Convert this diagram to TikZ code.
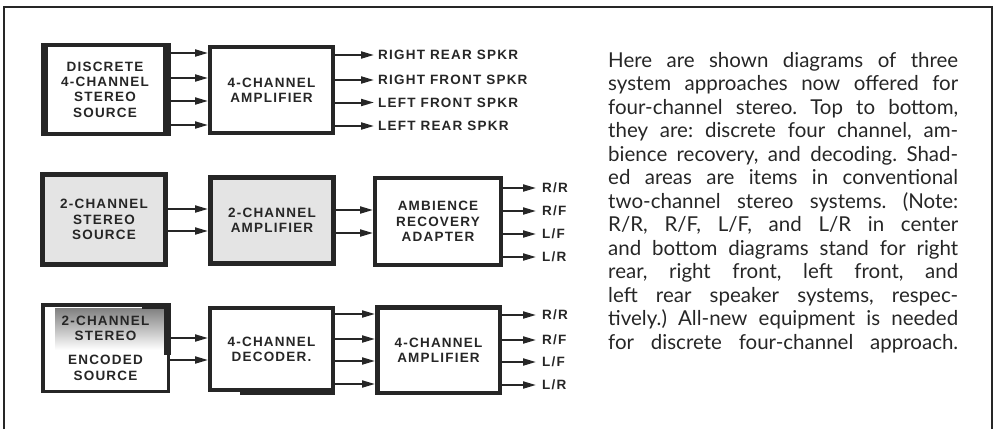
\documentclass[tikz,border=0pt]{standalone}
\usepackage{fontspec}
\setmainfont{Lato}
\newfontfamily\boxfont[LetterSpace=9]{Liberation Sans}
\usetikzlibrary{arrows.meta}
\definecolor{ink}{HTML}{262626}
\definecolor{shade}{HTML}{E4E4E4}
\begin{document}
\frenchspacing
\begin{tikzpicture}[x=1pt,y=-1pt,
  blk/.style={draw=ink, line width=4pt, inner sep=0pt, align=center,
    font=\boxfont\bfseries\fontsize{13.5}{15.3}\selectfont, text=ink},
  lbl/.style={anchor=west, inner sep=0pt, text height=9.7pt, text depth=0pt,
    font=\boxfont\bfseries\fontsize{13.5}{15}\selectfont, text=ink},
  sig/.style={draw=ink, line width=2pt, -{Triangle[length=13pt,width=7pt]}},
]
\useasboundingbox (0,0) rectangle (995,429);
% outer frame
\draw[ink, line width=2.5pt] (4,429) -- (4,7) -- (992,7) -- (992,429);

% ---------- row 1 ----------
\node[blk, minimum width=124pt, minimum height=89pt] (src1) at (105,89.5)
  {DISCRETE\\4-CHANNEL\\STEREO\\SOURCE};
\fill[ink] (41,43) rectangle (47.5,136);
\fill[ink] (162.5,43) rectangle (170.5,136);
\node[blk, minimum width=123pt, minimum height=86pt] (amp1) at (271.5,90)
  {4-CHANNEL\\AMPLIFIER};
\foreach \y in {53,78,101,125}
  \draw[sig] (src1.east |- 0,\y) -- (amp1.west |- 0,\y);
\node[lbl] (o1a) at (378,55) {RIGHT REAR SPKR};
\node[lbl] (o1b) at (378,80) {RIGHT FRONT SPKR};
\node[lbl] (o1c) at (378,102.5) {LEFT FRONT SPKR};
\node[lbl] (o1d) at (378,126) {LEFT REAR SPKR};
\foreach \n in {o1a,o1b,o1c,o1d}
  \draw[sig] (amp1.east |- \n.west) -- ([xshift=-4pt]\n.west);

% ---------- row 2 ----------
\node[blk, fill=shade, line width=5pt, minimum width=123pt, minimum height=90pt] (src2) at (104,219.5)
  {2-CHANNEL\\STEREO\\SOURCE};
\node[blk, fill=shade, line width=5pt, minimum width=123pt, minimum height=86pt] (amp2) at (272,220.5)
  {2-CHANNEL\\AMPLIFIER};
\node[blk, minimum width=126pt, minimum height=87pt] (amb) at (438,221.5)
  {AMBIENCE\\RECOVERY\\ADAPTER};
\foreach \y in {209,231}
  \draw[sig] (src2.east |- 0,\y) -- (amp2.west |- 0,\y);
\foreach \y in {210,233}
  \draw[sig] (amp2.east |- 0,\y) -- (amb.west |- 0,\y);
\node[lbl] (o2a) at (542,188) {R/R};
\node[lbl] (o2b) at (542,211) {R/F};
\node[lbl] (o2c) at (542,234) {L/F};
\node[lbl] (o2d) at (542,257) {L/R};
\foreach \n in {o2a,o2b,o2c,o2d}
  \draw[sig] (amb.east |- \n.west) -- ([xshift=-6pt]\n.west);

% ---------- row 3 ----------
\fill[shade] (55,308) rectangle (165,350);
\node[blk, line width=3.5pt, minimum width=125.5pt, minimum height=86.5pt] (src3) at (105.5,348)
  {2-CHANNEL\\STEREO\\[9pt]ENCODED\\SOURCE};
\fill[ink] (142,303) rectangle (170.5,308.5);
\fill[ink] (164,303) rectangle (170.5,355);
\node[blk, minimum width=123pt, minimum height=82pt] (dec) at (271.5,349)
  {4-CHANNEL\\DECODER.};
\fill[ink] (240,388) rectangle (335,394.5);
\node[blk, line width=4.5pt, minimum width=122.5pt, minimum height=85.5pt] (amp3) at (438.5,350)
  {4-CHANNEL\\AMPLIFIER};
\foreach \y in {338,360}
  \draw[sig] (src3.east |- 0,\y) -- (dec.west |- 0,\y);
\foreach \y in {314,339,361,384}
  \draw[sig] (dec.east |- 0,\y) -- (amp3.west |- 0,\y);
\node[lbl] (o3a) at (542,315) {R/R};
\node[lbl] (o3b) at (542,340) {R/F};
\node[lbl] (o3c) at (542,362) {L/F};
\node[lbl] (o3d) at (542,385) {L/R};
\foreach \n in {o3a,o3b,o3c,o3d}
  \draw[sig] (amp3.east |- \n.west) -- ([xshift=-6pt]\n.west);

% ---------- caption ----------
\node[anchor=base west, inner sep=0pt, text=ink] (body) at (608,67)
 {\parbox[t]{350pt}{\fontsize{20.5}{23.5}\selectfont
  \makebox[350pt][s]{Here are shown diagrams of three}\\
  \makebox[350pt][s]{system approaches now offered for}\\
  \makebox[350pt][s]{four-channel stereo. Top to bottom,}\\
  \makebox[350pt][s]{they are: discrete four channel, am-}\\
  \makebox[350pt][s]{bience recovery, and decoding. Shad-}\\
  \makebox[350pt][s]{ed areas are items in conventional}\\
  \makebox[350pt][s]{two-channel stereo systems. (Note:}\\
  \makebox[350pt][s]{R/R, R/F, L/F, and L/R in center}\\
  \makebox[350pt][s]{and bottom diagrams stand for right}\\
  \makebox[350pt][s]{rear, right front, left front, and}\\
  \makebox[350pt][s]{left rear speaker systems, respec-}\\
  \makebox[350pt][s]{tively.) All-new equipment is needed}\\
  \makebox[350pt][s]{for discrete four-channel approach.}}};
\end{tikzpicture}
\end{document}
